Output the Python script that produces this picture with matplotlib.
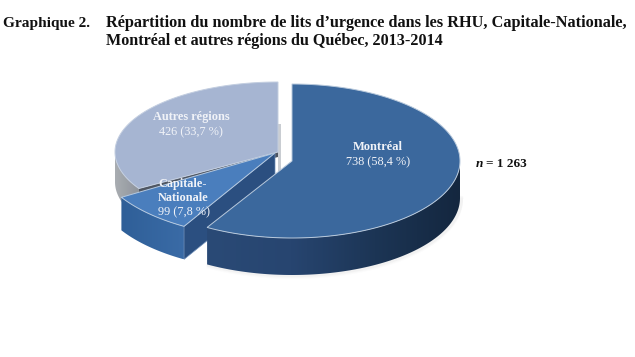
import numpy as np
import matplotlib
matplotlib.use('Agg')
import matplotlib.pyplot as plt
from matplotlib.colors import LinearSegmentedColormap
from matplotlib.patches import Polygon

plt.rcParams['font.family'] = ['Liberation Serif', 'DejaVu Serif']

names = ['Montréal', 'Capitale-\nNationale', 'Autres régions']
values = [738, 99, 426]
pct_labels = ['58,4 %', '7,8 %', '33,7 %']
title_tag = 'Graphique 2.'
title_lines = ['Répartition du nombre de lits d’urgence dans les RHU, Capitale-Nationale,',
               'Montréal et autres régions du Québec, 2013-2014']
n_label = '= 1 263'

# angles clockwise from 12 o'clock, from the values
total = sum(values)
stops = np.cumsum([0] + values) / total * 360

# each slice has its own projected ellipse, the picture is pulled apart in perspective
geom = {
    'mtl': dict(cx=292, cy=161, rx=168, ry=77, depth=37),
    'cap': dict(cx=275, cy=153, rx=180, ry=85, depth=33),
    'aut': dict(cx=278, cy=152, rx=163, ry=70, depth=30),
}


def rim(g, t0, t1, n=200):
    t = np.radians(np.linspace(t0, t1, n))
    return g['cx'] + g['rx'] * np.sin(t), g['cy'] - g['ry'] * np.cos(t)


def gradient_side(ax, g, t0, t1, colors, zorder):
    # outer wall of a slice, filled with a left-right gradient
    x, y = rim(g, t0, t1)
    px = np.r_[x, x[::-1]]
    py = np.r_[y, y[::-1] + g['depth']]
    cmap = LinearSegmentedColormap.from_list('side', colors)
    grad = np.linspace(0, 1, 256).reshape(1, -1)
    im = ax.imshow(grad, cmap=cmap, aspect='auto', zorder=zorder,
                   extent=[px.min(), px.max(), py.max(), py.min()])
    poly = Polygon(np.c_[px, py], closed=True, fc='none', ec='none', zorder=zorder)
    ax.add_patch(poly)
    im.set_clip_path(poly)


def top_face(ax, g, t0, t1, color, edge, zorder):
    x, y = rim(g, t0, t1)
    ax.fill(np.r_[g['cx'], x], np.r_[g['cy'], y], fc=color, ec=edge, lw=0.7, zorder=zorder)


fig = plt.figure(figsize=(6.35, 3.57), dpi=100)
ax = fig.add_axes([0, 0, 1, 1])

# soft shadow under the pie
sx, sy = rim(geom['mtl'], 90, 210)
for i, a in enumerate([0.015, 0.02, 0.03]):
    ax.plot(sx + 1, sy + geom['mtl']['depth'] + 2 - i, color='#404040', alpha=a, lw=3, zorder=1)

# Autres regions
g = geom['aut']
gradient_side(ax, g, stops[2], 270, ['#a9adb2', '#8f949b'], 2)
cx, cy = rim(g, stops[2], stops[2], 1)
ax.fill([g['cx'], cx[0], cx[0], g['cx']], [g['cy'], cy[0], cy[0] + 5, g['cy'] + 5],
        fc='#4f5662', ec='none', zorder=2)
ax.fill([g['cx'], g['cx'] + 3, g['cx'] + 3, g['cx']],
        [g['cy'] - 28, g['cy'] - 28, g['cy'] + 30, g['cy'] + 30], fc='#c9cdd2', ec='none', zorder=2)
top_face(ax, g, stops[2], stops[3], '#a6b5d2', '#c3cee0', 3)

# Capitale-Nationale
g = geom['cap']
gradient_side(ax, g, stops[1], stops[2], ['#2f5f98', '#3a6ba6'], 4)
cx, cy = rim(g, stops[1], stops[1], 1)
ax.fill([g['cx'], cx[0], cx[0], g['cx']],
        [g['cy'], cy[0], cy[0] + g['depth'], g['cy'] + g['depth']],
        fc='#2b4f80', ec='#6f8fb8', lw=0.5, zorder=4)
top_face(ax, g, stops[1], stops[2], '#4a7ebd', '#b5c9e0', 5)

# Montreal
g = geom['mtl']
gradient_side(ax, g, stops[0] + 90, stops[1],
              ['#2a4a76', '#274570', '#1c3555', '#14273f'], 6)
top_face(ax, g, stops[0], stops[1], '#3b689d', '#b8c9dc', 7)

white = '#f1f3f8'
ax.text(378, 147, names[0], color=white, fontsize=9, fontweight='bold', ha='center', va='center', zorder=9)
ax.text(378, 162, f'{values[0]} ({pct_labels[0]})', color=white, fontsize=8.8, ha='center', va='center', zorder=9)
ax.text(183, 191, names[1], color=white, fontsize=8.8, fontweight='bold', ha='center', va='center',
        linespacing=1.25, zorder=9)
ax.text(184, 212, f'{values[1]} ({pct_labels[1]})', color=white, fontsize=8.8, ha='center', va='center', zorder=9)
ax.text(191, 117, names[2], color=white, fontsize=8.8, fontweight='bold', ha='center', va='center', zorder=9)
ax.text(191, 132, f'{values[2]} ({pct_labels[2]})', color=white, fontsize=8.8, ha='center', va='center', zorder=9)

ax.text(476, 164, 'n', style='italic', fontweight='bold', fontsize=9.5, color='#111111', va='center')
ax.text(486, 164, n_label, fontweight='bold', fontsize=9.5, color='#111111', va='center')

ax.text(3, 23, title_tag, fontweight='bold', fontsize=11.1, color='#111111', va='center')
ax.text(106, 23, title_lines[0], fontweight='bold', fontsize=11.7, color='#111111', va='center')
ax.text(106, 41, title_lines[1], fontweight='bold', fontsize=11.6, color='#111111', va='center')

ax.set_xlim(0, 635)
ax.set_ylim(357, 0)
ax.axis('off')

plt.savefig('out.png', dpi=100)
